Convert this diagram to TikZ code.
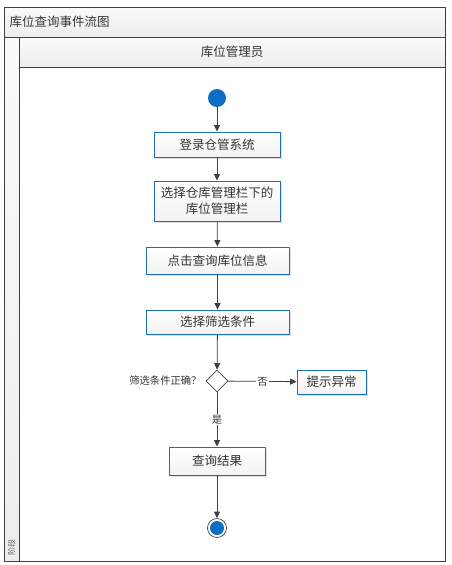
\documentclass[tikz,border=0pt]{standalone}
\usepackage{fontspec}
\setmainfont{Noto Sans CJK SC}
\usetikzlibrary{arrows.meta,shapes.geometric,shadows}
\definecolor{boxblue}{HTML}{1F6FB8}
\definecolor{dotblue}{HTML}{0A6FC2}
\definecolor{linegray}{HTML}{404040}
\definecolor{bandtop}{HTML}{FAFAFA}
\definecolor{bandbot}{HTML}{EDEDED}
\tikzset{
  actbox/.style={draw=boxblue, line width=0.9pt, top color=white, bottom color=bandbot!70,
    drop shadow={shadow xshift=1.5pt, shadow yshift=-1.5pt, opacity=0.25},
    inner sep=0pt, font=\fontsize{12.5}{16}\selectfont, text=black!80, align=center},
  flow/.style={draw=linegray, line width=0.8pt, -{Triangle[length=6.5pt,width=6pt]}},
  band/.style={draw=linegray, line width=0.8pt, top color=bandtop, bottom color=bandbot},
  lbl/.style={font=\fontsize{10.3}{12}\selectfont, text=black!80, fill=white, inner sep=1pt}
}
\begin{document}
\begin{tikzpicture}[x=1pt,y=-1pt]
\useasboundingbox (0,0) rectangle (451,565);
\fill[white] (0,0) rectangle (451,565);
% frame
\draw[band] (4,7) rectangle (445,37);
\node[anchor=west, font=\fontsize{12.5}{14}\selectfont, text=black!80] (title) at (6,22) {库位查询事件流图};
\draw[band] (4,37) rectangle (19,561);
\draw[band] (19,37) rectangle (445,67);
\node[font=\fontsize{12.5}{14}\selectfont, text=black!80] (lane) at (232,52) {库位管理员};
\draw[linegray, line width=0.8pt, fill=white] (19,67) rectangle (445,561);
\node[rotate=90, font=\fontsize{8}{9}\selectfont, text=black!60] (stage) at (11.5,547) {阶段};
% nodes
\node[circle, fill=dotblue, minimum size=18pt, inner sep=0pt] (start) at (217,98) {};
\node[actbox, minimum width=126pt, minimum height=25pt] (b1) at (217,144.5) {登录仓管系统};
\node[actbox, minimum width=126pt, minimum height=40pt] (b2) at (217,201) {选择仓库管理栏下的\\库位管理栏};
\node[actbox, minimum width=143pt, minimum height=27pt] (b3) at (217.5,260.5) {点击查询库位信息};
\node[actbox, minimum width=143pt, minimum height=24pt] (b4) at (217.5,322) {选择筛选条件};
\node[diamond, draw=linegray, line width=0.8pt, fill=white, minimum width=22pt, minimum height=22pt, inner sep=0pt] (d) at (217,381) {};
\node[anchor=east, font=\fontsize{10.3}{12}\selectfont, text=black!80] (dl) at (205,381) {筛选条件正确？};
\node[actbox, minimum width=69pt, minimum height=24pt] (warn) at (331.5,382) {提示异常};
\node[actbox, minimum width=96pt, minimum height=28pt] (b5) at (217,461) {查询结果};
\node[circle, draw=linegray, line width=0.7pt, fill=white, minimum size=19pt, inner sep=0pt] (endo) at (217,528) {};
\node[circle, fill=dotblue, minimum size=14pt, inner sep=0pt] (endi) at (217,528) {};
% connectors
\draw[flow] (start) -- (b1);
\draw[flow] (b1) -- (b2);
\draw[flow] (b2) -- (b3);
\draw[flow] (b3) -- (b4);
\draw[flow] (b4) -- (d);
\draw[flow] (d) -- node[lbl] {否} (warn);
\draw[flow] (d) -- node[lbl] {是} (b5);
\draw[flow] (b5) -- (endo);
\end{tikzpicture}
\end{document}
